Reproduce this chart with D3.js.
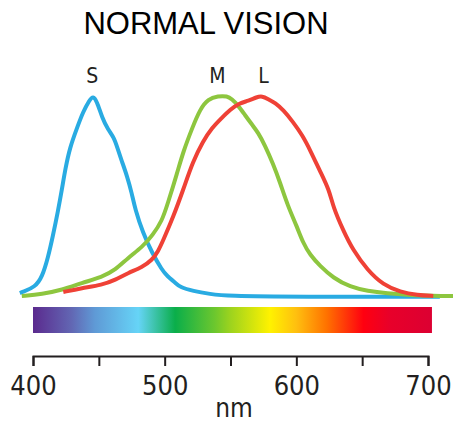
<!DOCTYPE html>
<html>
<head>
<meta charset="utf-8">
<script src="https://cdn.jsdelivr.net/npm/d3@7"></script>
<style>
  body { margin: 0; background: #fff; }
</style>
</head>
<body>
<div id="container"></div>
<script>
// cone sensitivity curves, wavelength (nm) -> relative response
let sNm = [390, 392, 401.5, 407, 411.5, 415, 419, 422, 424.5, 428, 433.5, 438, 443, 445.5, 448.5, 452.5, 457, 461.5, 464, 467.5, 471.5, 475, 477.5, 483.5, 490.5, 498, 502, 508, 511.5, 521.5, 534.5, 547, 600, 709];
let sVal = [0.015, 0.02, 0.045, 0.096, 0.197, 0.3, 0.43, 0.54, 0.64, 0.75, 0.85, 0.93, 0.99, 1.01, 0.985, 0.9, 0.84, 0.8, 0.75, 0.68, 0.605, 0.52, 0.44, 0.318, 0.217, 0.131, 0.1, 0.068, 0.045, 0.025, 0.01, 0, -0.004, -0.004];

let mNm = [391.5, 407, 422, 437, 452.5, 462.5, 472, 483, 491, 498, 502, 509.5, 514, 521, 527, 533, 540.5, 547.5, 551, 555.5, 561, 566.5, 571, 576, 582.5, 587.5, 593.5, 600.5, 605, 610.5, 618, 628, 641, 654, 669, 686, 704, 719];
let mVal = [0, 0.01, 0.03, 0.066, 0.096, 0.131, 0.192, 0.247, 0.308, 0.38, 0.46, 0.621, 0.727, 0.85, 0.945, 0.995, 1.01, 1.01, 0.995, 0.965, 0.914, 0.864, 0.825, 0.763, 0.665, 0.576, 0.455, 0.35, 0.27, 0.207, 0.152, 0.091, 0.045, 0.025, 0.013, 0.005, 0, 0];

let lNm = [423, 437, 452.5, 462.5, 472, 483, 490.5, 495, 499, 506.5, 514, 521.5, 529, 536, 543.5, 549.5, 557, 563.5, 570, 574, 578.5, 584, 590, 597.5, 604.5, 611, 618, 625, 628, 635.5, 643, 654, 666, 679, 692, 704];
let lVal = [0.02, 0.04, 0.056, 0.081, 0.116, 0.146, 0.182, 0.225, 0.283, 0.399, 0.535, 0.68, 0.78, 0.85, 0.9, 0.94, 0.975, 0.985, 1.005, 1.01, 0.995, 0.975, 0.94, 0.879, 0.813, 0.73, 0.63, 0.535, 0.449, 0.333, 0.232, 0.131, 0.056, 0.02, 0.005, 0];

let cones = ["S", "M", "L"];
let conePeaks = [445, 540, 575];
let coneColors = ["#29abe2", "#8dc63f", "#ef4136"];

// colour bar under the curves
let spectrumNm = [400, 429, 447, 480, 508, 538, 550, 580, 600, 623, 651, 671, 703];
let spectrumColors = ["#5b2a8e", "#6266b3", "#5f9ad6", "#66d4f7", "#0aae4a", "#6cc72e", "#9dd31e", "#fff200", "#ffbf0f", "#ff7200", "#ff0010", "#e8002a", "#dc0032"];

let tickValues = [400, 450, 500, 550, 600, 650, 700];
let tickLabels = [400, 500, 600, 700];

let width = 459, height = 423;

let svg = d3.select("#container")
    .append("svg")
    .attr("width", width)
    .attr("height", height);

let x = d3.scaleLinear().domain([400, 700]).range([33, 428]);
let y = d3.scaleLinear().domain([0, 1]).range([296, 98]);

// title
svg.append("text")
    .attr("x", 206)
    .attr("y", 34)
    .attr("text-anchor", "middle")
    .attr("font-family", "Liberation Sans, Arial, sans-serif")
    .attr("font-size", 31)
    .attr("fill", "#000")
    .text("NORMAL VISION");

// curves
let line = d3.line()
    .x(d => x(d[0]))
    .y(d => y(d[1]))
    .curve(d3.curveBasis);

let series = [d3.zip(sNm, sVal), d3.zip(mNm, mVal), d3.zip(lNm, lVal)];

svg.selectAll("path.cone")
    .data(series)
    .enter()
    .append("path")
    .attr("class", "cone")
    .attr("d", line)
    .attr("fill", "none")
    .attr("stroke", (d, i) => coneColors[i])
    .attr("stroke-width", 4)
    .attr("stroke-linejoin", "round")
    .attr("stroke-linecap", "butt");

// cone letters
svg.selectAll("text.cone-label")
    .data(cones)
    .enter()
    .append("text")
    .attr("class", "cone-label")
    .attr("x", (d, i) => x(conePeaks[i]))
    .attr("y", 83)
    .attr("text-anchor", "middle")
    .attr("font-family", "DejaVu Sans Condensed, DejaVu Sans, sans-serif")
    .attr("font-stretch", "condensed")
    .attr("font-size", 21)
    .attr("fill", "#231f20")
    .text(d => d);

// spectrum gradient
let grad = svg.append("defs")
    .append("linearGradient")
    .attr("id", "spectrum")
    .attr("gradientUnits", "userSpaceOnUse")
    .attr("x1", x(spectrumNm[0]))
    .attr("x2", x(spectrumNm[spectrumNm.length - 1]))
    .attr("y1", 0)
    .attr("y2", 0);

let x0 = x(spectrumNm[0]), x1 = x(spectrumNm[spectrumNm.length - 1]);
grad.selectAll("stop")
    .data(spectrumNm)
    .enter()
    .append("stop")
    .attr("offset", d => (x(d) - x0) / (x1 - x0))
    .attr("stop-color", (d, i) => spectrumColors[i]);

svg.append("rect")
    .attr("x", x0)
    .attr("y", 307)
    .attr("width", x1 - x0)
    .attr("height", 26)
    .attr("fill", "url(#spectrum)");

// axis
let axis = d3.axisBottom(x)
    .tickValues(tickValues)
    .tickSize(10)
    .tickSizeOuter(10)
    .tickPadding(10)
    .tickFormat(d => tickLabels.includes(d) ? d : "");

let ax = svg.append("g")
    .attr("transform", "translate(0,356)")
    .call(axis);

ax.select(".domain").attr("stroke", "#231f20").attr("stroke-width", 2);
ax.selectAll(".tick line").attr("stroke", "#231f20").attr("stroke-width", 2);
ax.selectAll(".tick text")
    .attr("font-family", "DejaVu Sans Condensed, DejaVu Sans, sans-serif")
    .attr("font-stretch", "condensed")
    .attr("font-size", 27)
    .attr("fill", "#231f20");

svg.append("text")
    .attr("x", 234)
    .attr("y", 417)
    .attr("text-anchor", "middle")
    .attr("font-family", "DejaVu Sans Condensed, DejaVu Sans, sans-serif")
    .attr("font-stretch", "condensed")
    .attr("font-size", 26)
    .attr("fill", "#231f20")
    .text("nm");
</script>
</body>
</html>
